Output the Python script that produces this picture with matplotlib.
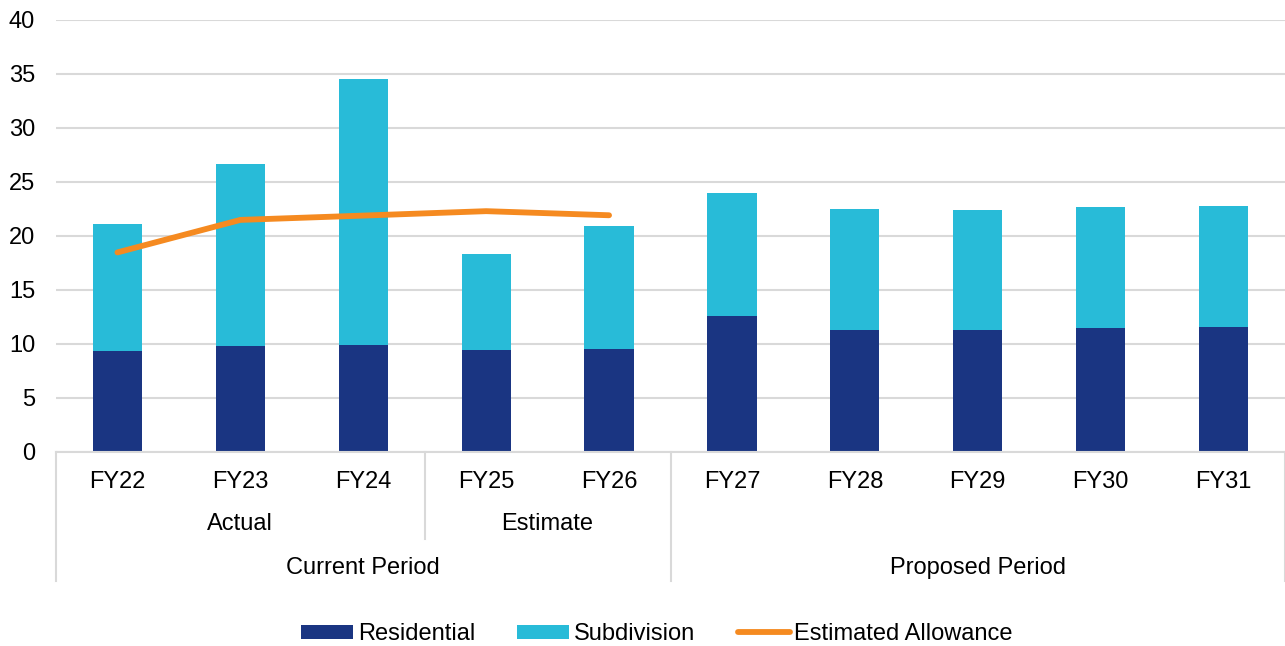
import matplotlib
matplotlib.use("Agg")
import matplotlib.pyplot as plt
from matplotlib.transforms import blended_transform_factory
from matplotlib.patches import Patch
from matplotlib.lines import Line2D

plt.rcParams['font.family'] = ['Liberation Sans', 'DejaVu Sans']

years = ["FY22", "FY23", "FY24", "FY25", "FY26", "FY27", "FY28", "FY29", "FY30", "FY31"]
residential = [9.33, 9.77, 9.95, 9.49, 9.58, 12.62, 11.29, 11.29, 11.44, 11.57]
subdivision = [11.76, 16.90, 24.62, 8.80, 11.38, 11.35, 11.19, 11.13, 11.20, 11.25]
allowance_years = ["FY22", "FY23", "FY24", "FY25", "FY26"]
allowance = [18.48, 21.49, 21.89, 22.30, 21.92]

# (label, first index, last index)
sub_groups = [("Actual", 0, 2), ("Estimate", 3, 4)]
periods = [("Current Period", 0, 4), ("Proposed Period", 5, 9)]

NAVY = "#1A3582"
CYAN = "#28BBD8"
ORANGE = "#F58A20"
GRID = "#D9D9D9"
TEXT = "#000000"
FS = 17

W, H = 1285, 646
fig = plt.figure(figsize=(W / 100, H / 100), dpi=100)
ax = fig.add_axes([56 / W, (H - 452) / H, (W - 56) / W, 432 / H])

x = list(range(len(years)))
bw = 0.40
ax.bar(x, residential, width=bw, color=NAVY, zorder=2, label="Residential")
ax.bar(x, subdivision, width=bw, bottom=residential, color=CYAN, zorder=2, label="Subdivision")
ax.plot([years.index(y) for y in allowance_years], allowance, color=ORANGE, lw=4.2,
        solid_capstyle="round", zorder=3, label="Estimated Allowance")

ax.set_xlim(-0.5, len(years) - 0.5)
ax.set_ylim(0, 40)
ax.set_yticks(range(0, 41, 5))
ax.yaxis.grid(True, color=GRID, lw=1.5, zorder=0)
ax.set_axisbelow(True)
for s in ["top", "right", "left"]:
    ax.spines[s].set_visible(False)
ax.spines["bottom"].set_color(GRID)
ax.spines["bottom"].set_linewidth(1.5)
ax.tick_params(axis="y", length=0, labelsize=FS, pad=15, labelcolor=TEXT)
ax.set_xticks([])

# Multi-level category labels below the axis
tr = blended_transform_factory(ax.transData, fig.transFigure)
def fy(py):
    return (H - py) / H

for i, y in enumerate(years):
    ax.text(i, fy(482), y, transform=tr, ha="center", va="center", fontsize=FS, color=TEXT)
for name, a, b in sub_groups:
    ax.text((a + b) / 2, fy(524), name, transform=tr, ha="center", va="center", fontsize=FS, color=TEXT)
for name, a, b in periods:
    ax.text((a + b) / 2, fy(568), name, transform=tr, ha="center", va="center", fontsize=FS, color=TEXT)

# Separator lines between groups
def vline(xd, y0, y1):
    ax.add_line(Line2D([xd, xd], [fy(y0), fy(y1)], transform=tr, color=GRID, lw=1.5, clip_on=False))

vline(-0.5, 452, 581)
vline(2.5, 452, 539)
vline(4.5, 452, 581)
vline(len(years) - 0.5, 452, 581)

handles = [
    Patch(facecolor=NAVY, label="Residential"),
    Patch(facecolor=CYAN, label="Subdivision"),
    Line2D([0], [0], color=ORANGE, lw=4.2, solid_capstyle="round", label="Estimated Allowance"),
]
fig.legend(handles=handles, loc="center", bbox_to_anchor=(657 / W, fy(634)), ncol=3,
           frameon=False, fontsize=FS, handlelength=2.2, handleheight=0.55,
           handletextpad=0.2, columnspacing=1.8)

fig.savefig("out.png", dpi=100, facecolor="white")
